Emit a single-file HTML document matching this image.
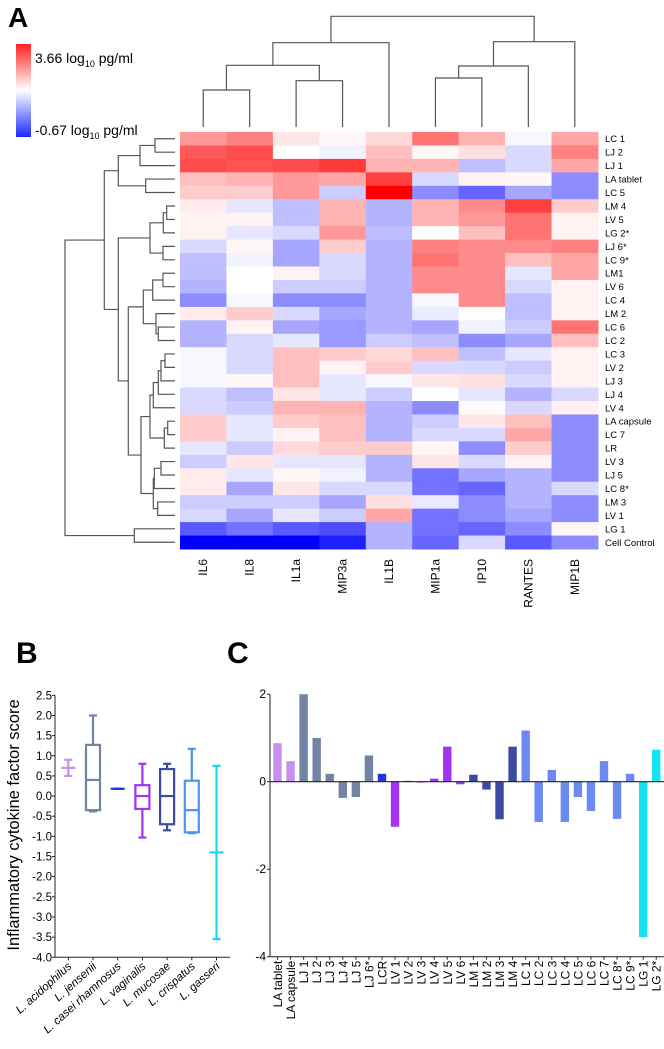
<!DOCTYPE html>
<html><head><meta charset="utf-8">
<style>
body{margin:0;background:#fff;width:664px;height:1049px;overflow:hidden;font-family:"Liberation Sans",Arial,sans-serif;}
svg{display:block}
</style></head>
<body>
<svg id="fig" width="664" height="1049" viewBox="0 0 664 1049">
<defs>
<linearGradient id="cg" x1="0" y1="0" x2="0" y2="1">
<stop offset="0" stop-color="#ff2020"/><stop offset="0.5" stop-color="#ffffff"/><stop offset="1" stop-color="#1a2aff"/>
</linearGradient>
</defs>
<text x="8" y="27" font-size="28" font-weight="bold">A</text>
<text x="16" y="663" font-size="30" font-weight="bold">B</text>
<text x="227" y="663" font-size="30" font-weight="bold">C</text>
<g>
<rect x="16" y="44" width="15" height="93" fill="url(#cg)"/>
<text x="35" y="63" font-size="14">3.66 log<tspan font-size="9" dy="4">10</tspan><tspan dy="-4"> pg/ml</tspan></text>
<text x="35" y="135" font-size="14">-0.67 log<tspan font-size="9" dy="4">10</tspan><tspan dy="-4"> pg/ml</tspan></text>
</g>
<g id="heat"></g>
<g id="dendro"></g>
<g id="boxp"></g>
<g id="barp"></g>
</svg>
<script>
const NS="http://www.w3.org/2000/svg";
function mk(tag,attrs,parent,txt){const e=document.createElementNS(NS,tag);for(const k in attrs)e.setAttribute(k,attrs[k]);if(txt!==undefined)e.textContent=txt;parent.appendChild(e);return e;}

// ---------- Heatmap data ----------
const cytokines=["IL6","IL8","IL1a","MIP3a","IL1B","MIP1a","IP10","RANTES","MIP1B"];
const strains=["LC 1","LJ 2","LJ 1","LA tablet","LC 5","LM 4","LV 5","LG 2*","LJ 6*","LC 9*","LM1","LV 6","LC 4","LM 2","LC 6","LC 2","LC 3","LV 2","LJ 3","LJ 4","LV 4","LA capsule","LC 7","LR","LV 3","LJ 5","LC 8*","LM 3","LV 1","LG 1","Cell Control"];
const heatValues=[
[0.4,0.5,0.1,0.03,0.15,0.55,0.3,-0.03,0.35],
[0.65,0.7,0,-0.05,0.25,0.03,0.12,-0.15,0.5],
[0.7,0.68,0.7,0.78,0.3,0.3,-0.25,-0.15,0.35],
[0.25,0.3,0.4,0.35,0.75,-0.15,0.05,0.03,-0.45],
[0.2,0.2,0.4,-0.2,1.0,-0.45,-0.6,-0.35,-0.45],
[0.08,-0.1,-0.25,0.3,-0.3,0.3,0.45,0.75,0.2],
[0.05,0.05,-0.25,0.3,-0.3,0.3,0.4,0.55,0.05],
[0.05,-0.1,-0.15,0.4,-0.25,0,0.25,0.55,0.05],
[-0.15,0.03,-0.35,0.2,-0.3,0.5,0.45,0.45,0.5],
[-0.25,-0.05,-0.35,-0.15,-0.3,0.55,0.45,0.25,0.35],
[-0.25,0,0.05,-0.15,-0.3,0.45,0.45,-0.1,0.35],
[-0.3,0,-0.2,-0.2,-0.3,0.45,0.45,-0.15,0.05],
[-0.45,-0.03,-0.45,-0.45,-0.3,-0.03,0.45,-0.25,0.05],
[0.08,0.2,-0.15,-0.35,-0.3,-0.08,0,-0.25,0.05],
[-0.3,0.05,-0.35,-0.4,-0.3,-0.35,-0.05,-0.2,0.55],
[-0.3,-0.15,-0.1,-0.4,-0.2,-0.25,-0.45,-0.35,0.25],
[-0.03,-0.15,0.25,0.2,0.15,0.25,-0.25,-0.1,0.05],
[-0.03,-0.15,0.25,0.05,0.2,-0.15,-0.15,-0.2,0.05],
[-0.03,0.03,0.25,-0.1,-0.03,0.1,0.12,-0.15,0.05],
[-0.15,-0.25,0.1,-0.1,-0.2,0,-0.1,-0.3,-0.15],
[-0.15,-0.2,0.3,0.3,-0.3,-0.45,0.02,-0.15,0.05],
[0.2,-0.1,0.2,0.25,-0.3,-0.2,0.1,0.25,-0.45],
[0.2,-0.1,0.05,0.25,-0.3,-0.15,-0.15,0.35,-0.45],
[-0.1,-0.2,0.15,0.2,0.2,0.03,-0.45,0.2,-0.45],
[-0.2,0.1,-0.1,-0.1,-0.3,0.1,-0.15,0.05,-0.45],
[0.08,-0.1,0.03,-0.05,-0.3,-0.55,-0.35,-0.3,-0.45],
[0.08,-0.35,0.1,-0.15,-0.15,-0.55,-0.6,-0.3,-0.15],
[-0.2,-0.2,-0.2,-0.35,0.12,-0.08,-0.45,-0.3,-0.45],
[-0.15,-0.35,-0.1,-0.2,0.35,-0.55,-0.45,-0.35,-0.45],
[-0.65,-0.55,-0.65,-0.7,-0.3,-0.55,-0.6,-0.45,0.03],
[-1,-1,-1,-0.88,-0.3,-0.6,-0.15,-0.65,-0.45]
];
const colTree=[[[[0,1,90],[2,3,80.7],65.3],4,42.7],[[[5,6,78],7,66],8,41.7],16.3];
const rowTree=[[[[[0,1,155],2,140],[3,4,145.7],118.3],[[[[5,6,166.7],7,163.3],[8,9,163],150],[[[[10,11,163],12,152.7],[13,[14,15,158.3],156],143.3],[[[[[[16,17,165],18,161],19,158.3],20,153.3],[[21,22,167.7],23,164.3],150],[[[24,25,161],26,154.3],[27,28,157.7],153.3],141],128.3],118.3],104.3],[29,30,134.3],65];

const HX0=180,HX1=598,HY0=132,HY1=549;
const cw=(HX1-HX0)/cytokines.length, rh=(HY1-HY0)/strains.length;
function colX(i){return HX0+cw*i;}
function rowY(i){return HY0+rh*i;}
function heatColor(v){v=Math.max(-1,Math.min(1,v));if(v>=0){const g=Math.round(255*(1-v));return `rgb(255,${g},${g})`;}const g=Math.round(255*(1+v));return `rgb(${g},${g},255)`;}
const heat=document.getElementById('heat');
heatValues.forEach((row,r)=>row.forEach((v,c)=>{
  const e=mk('rect',{x:colX(c),y:rowY(r),width:cw+0.5,height:rh+0.5,fill:heatColor(v)},heat);
  
  
}));
strains.forEach((s,r)=>{
  const t=mk('text',{x:605,y:rowY(r)+rh/2+3.5,'font-size':9.5},heat,s);
  
  
});
cytokines.forEach((s,c)=>{
  const cx=colX(c)+cw/2;
  const t=mk('text',{x:0,y:0,'font-size':12,'text-anchor':'end',transform:`translate(${cx+4},559) rotate(-90)`},heat,s);
  
  
});

// dendrograms
const dg=document.getElementById('dendro');
function drawTree(node,leafPos,leafH,horiz){
  if(typeof node==='number')return {p:leafPos(node),h:leafH};
  const a=drawTree(node[0],leafPos,leafH,horiz),b=drawTree(node[1],leafPos,leafH,horiz),h=node[2];
  let d;
  if(horiz) d=`M${a.h},${a.p}H${h}V${b.p}H${b.h}`;
  else d=`M${a.p},${a.h}V${h}H${b.p}V${b.h}`;
  const e=mk('path',{d:d,fill:'none',stroke:'#555','stroke-width':1.2},dg);
  
  
  return {p:(a.p+b.p)/2,h:h};
}
drawTree(colTree,i=>colX(i)+cw/2,127,false);
drawTree(rowTree,i=>rowY(i)+rh/2,175,true);

// ---------- Panel B box plot ----------
const species=["L. acidophilus","L. jensenii","L. casei rhamnosus","L. vaginalis","L. mucosae","L. crispatus","L. gasseri"];
const boxMin=[0.5,-0.38,0.18,-1.03,-0.85,-0.92,-3.55];
const boxQ1=[null,-0.35,null,-0.32,-0.7,-0.9,null];
const boxMed=[0.7,0.4,0.18,0,0,-0.35,-1.4];
const boxQ3=[null,1.27,null,0.27,0.67,0.38,null];
const boxMax=[0.9,2.0,0.18,0.8,0.8,1.17,0.75];
const boxColors=["#c690f0","#7383a3","#1c3ad8","#a134f2","#3c4aa2","#4b94ee","#14d8f2"];
const bTicks=[2.5,2.0,1.5,1.0,0.5,0.0,-0.5,-1.0,-1.5,-2.0,-2.5,-3.0,-3.5,-4.0];
const bp=document.getElementById('boxp');
const BY0=695.3,BPU=40.3,BAX=55;
function by(v){return BY0+(2.5-v)*BPU;}
function bx(i){return 68.3+24.7*i;}
mk('line',{x1:BAX,y1:by(2.5),x2:BAX,y2:by(-4),stroke:'#222','stroke-width':1},bp);
mk('line',{x1:BAX,y1:by(-4),x2:230,y2:by(-4),stroke:'#222','stroke-width':1},bp);
bTicks.forEach(v=>{
  const l=mk('line',{x1:BAX-3,y1:by(v),x2:BAX,y2:by(v),stroke:'#222'},bp);
  
  
  const t=mk('text',{x:BAX-3,y:by(v)+4,'font-size':11.5,'text-anchor':'end'},bp,v.toFixed(1));
  
  
});
const bt=mk('text',{x:0,y:0,'font-size':16.5,'text-anchor':'middle',transform:'translate(19,825) rotate(-90)'},bp,'Inflammatory cytokine factor score');


species.forEach((s,i)=>{
  const x=bx(i),c=boxColors[i],g=mk('g',{stroke:c,'stroke-width':2.2,fill:'none'},bp);
  
  
  const hw=7;
  if(boxQ1[i]!==null){
    mk('rect',{x:x-hw,y:by(boxQ3[i]),width:2*hw,height:by(boxQ1[i])-by(boxQ3[i])},g);
    mk('line',{x1:x,y1:by(boxMax[i]),x2:x,y2:by(boxQ3[i])},g);
    mk('line',{x1:x,y1:by(boxQ1[i]),x2:x,y2:by(boxMin[i])},g);
    mk('line',{x1:x-hw,y1:by(boxMed[i]),x2:x+hw,y2:by(boxMed[i])},g);
    mk('line',{x1:x-4,y1:by(boxMax[i]),x2:x+4,y2:by(boxMax[i])},g);
    mk('line',{x1:x-4,y1:by(boxMin[i]),x2:x+4,y2:by(boxMin[i])},g);
  }else{
    mk('line',{x1:x,y1:by(boxMax[i]),x2:x,y2:by(boxMin[i])},g);
    mk('line',{x1:x-hw,y1:by(boxMed[i]),x2:x+hw,y2:by(boxMed[i])},g);
    mk('line',{x1:x-4,y1:by(boxMax[i]),x2:x+4,y2:by(boxMax[i])},g);
    mk('line',{x1:x-4,y1:by(boxMin[i]),x2:x+4,y2:by(boxMin[i])},g);
  }
  const tk=mk('line',{x1:x,y1:by(-4),x2:x,y2:by(-4)+3,stroke:'#222'},bp);
  
  
  const lt=mk('text',{x:0,y:0,'font-size':11.5,'font-style':'italic','text-anchor':'end',transform:`translate(${x+4},${by(-4)+10}) rotate(-42)`},bp,s);
  
  
});

// ---------- Panel C bar chart ----------
const barLabels=["LA tablet","LA capsule","LJ 1","LJ 2","LJ 3","LJ 4","LJ 5","LJ 6*","LCR","LV 1","LV 2","LV 3","LV 4","LV 5","LV 6","LM 1","LM 2","LM 3","LM 4","LC 1","LC 2","LC 3","LC 4","LC 5","LC 6","LC 7","LC 8*","LC 9*","LG 1","LG 2*"];
const barValues=[0.88,0.47,2.0,1.0,0.18,-0.37,-0.35,0.6,0.18,-1.03,0.02,-0.02,0.07,0.8,-0.06,0.16,-0.18,-0.86,0.8,1.17,-0.92,0.27,-0.92,-0.35,-0.67,0.47,-0.85,0.18,-3.55,0.73];
const barGroups=["LA","LA","LJ","LJ","LJ","LJ","LJ","LJ","LCR","LV","LV","LV","LV","LV","LV","LM","LM","LM","LM","LC","LC","LC","LC","LC","LC","LC","LC","LC","LG","LG"];
const groupColors={LA:"#c690f0",LJ:"#7383a3",LCR:"#2233dd",LV:"#a134f2",LM:"#3c4aa2",LC:"#6a8af2",LG:"#14e2f2"};
const cTicks=[2,0,-2,-4];
const cp=document.getElementById('barp');
const CAX=270;
function cy(v){return 781.7-v*43.75;}
function cx(i){return 277.5+13.06*i;}
mk('line',{x1:CAX,y1:cy(2),x2:CAX,y2:cy(-4),stroke:'#222'},cp);
mk('line',{x1:CAX,y1:cy(-4),x2:664,y2:cy(-4),stroke:'#222'},cp);
cTicks.forEach(v=>{
  const l=mk('line',{x1:CAX-3,y1:cy(v),x2:CAX,y2:cy(v),stroke:'#222'},cp);
  
  
  const t=mk('text',{x:CAX-4,y:cy(v)+4,'font-size':12,'text-anchor':'end'},cp,String(v));
  
  
});
barValues.forEach((v,i)=>{
  const x=cx(i),y0=cy(0),y1=cy(v);
  const r=mk('rect',{x:x-4.2,y:Math.min(y0,y1),width:8.4,height:Math.abs(y1-y0),fill:groupColors[barGroups[i]]},cp);
  
  
  const tk=mk('line',{x1:x,y1:cy(-4),x2:x,y2:cy(-4)+3,stroke:'#222'},cp);
  
  
  const t=mk('text',{x:0,y:0,'font-size':12,'text-anchor':'end',transform:`translate(${x+4.5},${cy(-4)+4}) rotate(-90)`},cp,barLabels[i]);
  
  
});
mk('line',{x1:CAX,y1:cy(0),x2:664,y2:cy(0),stroke:'#222','stroke-width':1.2},cp);
</script>
</body></html>
